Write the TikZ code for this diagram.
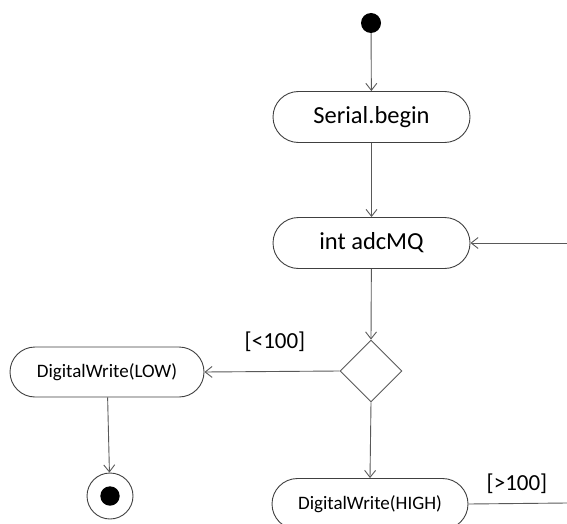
\documentclass[tikz,border=0pt]{standalone}
\usepackage{fontspec}
\setmainfont{Carlito}
\usetikzlibrary{shapes.misc,shapes.geometric,arrows.meta}
\definecolor{edgegray}{HTML}{595959}
\definecolor{bordergray}{HTML}{404040}
\tikzset{
  action/.style={rounded rectangle, draw=bordergray, line width=0.9pt, fill=white,
    minimum width=197pt, minimum height=51pt, inner sep=0pt},
  bigtext/.style={font=\fontsize{24.5}{28}\selectfont},
  smalltext/.style={font=\fontsize{19}{22}\selectfont},
  decision/.style={diamond, draw=edgegray, line width=0.9pt, minimum width=62pt,
    minimum height=62pt, inner sep=0pt, aspect=1},
  flow/.style={draw=edgegray, line width=0.9pt,
    -{Straight Barb[length=7pt,width=11pt,line width=0.9pt]}},
  guard/.style={font=\fontsize{23}{27}\selectfont},
}
\begin{document}
\begin{tikzpicture}[x=1pt,y=-1pt]
  \useasboundingbox (0,0) rectangle (567,524);
  % initial and final nodes
  \node (start) [circle, fill=black, minimum size=20pt, inner sep=0pt] at (371,23) {};
  \node (final) [circle, draw=bordergray, line width=0.9pt, minimum size=46pt, inner sep=0pt] at (110,496) {};
  \fill (final.center) circle (9.7pt);
  % actions
  \node (serial) [action, bigtext] at (371.5,117) {Serial.begin};
  \node (adc) [action, bigtext] at (371.5,243) {int adcMQ};
  \node (choice) [decision] at (371,371) {};
  \node (low) [action, smalltext, minimum width=194pt, minimum height=50pt] at (107,372) {DigitalWrite(LOW)};
  \node (high) [action, smalltext, minimum width=196pt] at (370,504) {DigitalWrite(HIGH)};
  % loose ends at the right border
  \coordinate (loopin) at (567,243);
  \coordinate (loopout) at (567,503);
  % control flow
  \draw[flow] (start) -- (serial);
  \draw[flow] (serial) -- (adc);
  \draw[flow] (loopin) -- (adc.east);
  \draw[flow] (adc) -- (choice.north);
  \draw[flow] (choice.west) -- (low.east);
  \draw[flow] (low) -- (final);
  \draw[flow] (choice.south) -- (high.north);
  \draw[draw=edgegray, line width=0.9pt] (high.east) -- (loopout);
  % guards
  \node (lt) [guard] at (275,342) {[<100]};
  \node (gt) [guard] at (517,484) {[>100]};
\end{tikzpicture}
\end{document}
